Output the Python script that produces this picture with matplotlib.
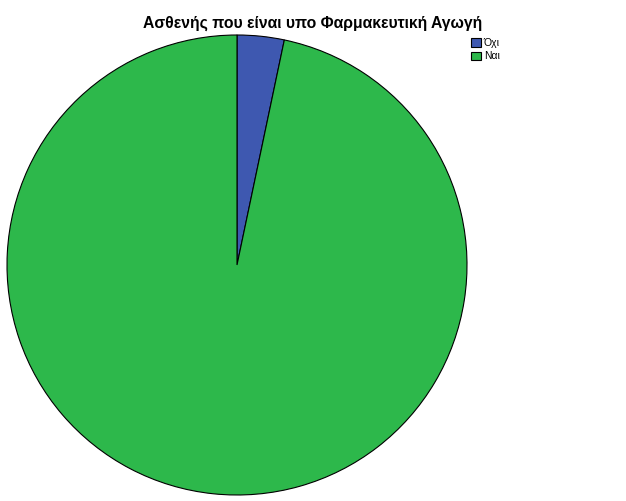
import matplotlib
matplotlib.use("Agg")
import matplotlib.pyplot as plt

categories = ["Όχι", "Ναι"]
values = [3.3, 96.7]
colors = ["#3e58b0", "#2db84b"]
title = "Ασθενής που είναι υπο Φαρμακευτική Αγωγή"

plt.rcParams['font.family'] = ['Liberation Sans', 'DejaVu Sans']

fig = plt.figure(figsize=(6.26, 5.01), dpi=100)
fig.patch.set_facecolor("white")
ax = fig.add_axes([7/626, 6/501, 460/626, 460/501])
wedges, _ = ax.pie(values, colors=colors, startangle=90, counterclock=False,
                   wedgeprops=dict(edgecolor="black", linewidth=0.8))
ax.set_aspect("equal")
ax.set_xlim(-1, 1)
ax.set_ylim(-1, 1)

fig.text(313/626, 1 - 23/501, title, ha="center", va="center",
         fontsize=11.3, fontweight="bold")

leg = fig.legend(wedges, categories, loc="upper left",
                 bbox_to_anchor=(464/626, 1 - 31/501), frameon=False,
                 fontsize=7.5, handlelength=0.9, handleheight=0.9,
                 handletextpad=0.3, labelspacing=0.3, borderpad=0.2)
fig.savefig("out.png", dpi=100, facecolor="white")
